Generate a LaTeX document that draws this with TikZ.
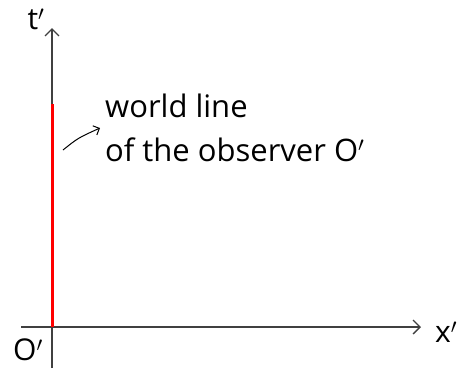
\documentclass[tikz,border=0pt]{standalone}
\usepackage{fontspec}
\setmainfont{Open Sans}
\usetikzlibrary{arrows.meta}
\begin{document}
\begin{tikzpicture}[x=1pt,y=-1pt,
  axis/.style={line width=1.3pt,draw=black!75,-{Straight Barb[length=7pt,width=14pt,line width=1.3pt]}},
  lbl/.style={font=\fontsize{30}{32}\selectfont,inner sep=0pt,text=black},
  txt/.style={font=\fontsize{31}{44}\selectfont,inner sep=0pt,align=left,anchor=base west}]
\useasboundingbox (0,0) rectangle (459,375);
\coordinate (o) at (52,327);
\coordinate (ytop) at (52,28);
\coordinate (ybot) at (52,368);
\coordinate (xleft) at (21,327);
\coordinate (xright) at (421,327);
\coordinate (rtop) at (52,104);
\draw[axis] (ybot) -- (ytop);
\draw[axis] (xleft) -- (xright);
\draw[line width=3pt,draw=red] (o) -- (rtop);
\node[txt] (wl) at (105,161) {world line\\of the observer O$'$};
\coordinate (as) at (63,150);
\coordinate (ae) at (100,128);
\draw[line width=1pt,-{Straight Barb[length=5pt,width=10pt,line width=1pt]}] (as) .. controls (78,138) .. (ae);
\node[lbl] (tl) at (36,19) {t$'$};
\node[lbl] (xl) at (446,332) {x$'$};
\node[lbl] (ol) at (28,350) {O$'$};
\end{tikzpicture}
\end{document}
